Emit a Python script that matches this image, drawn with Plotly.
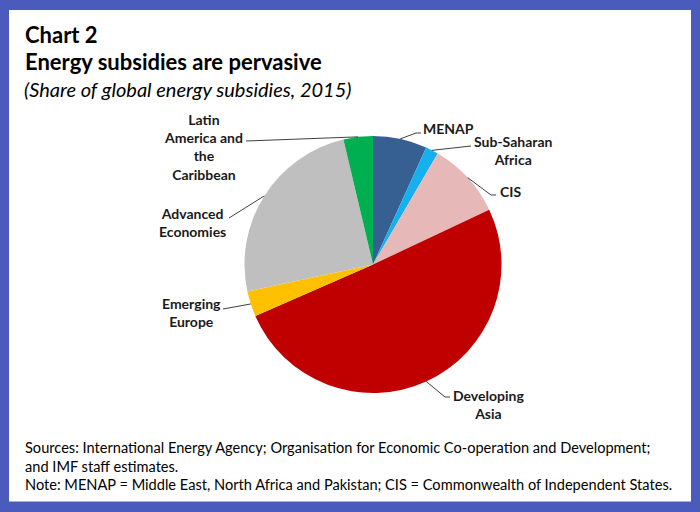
import math
import plotly.graph_objects as go

# ---- data ----
regions = ["MENAP", "Sub-Saharan Africa", "CIS", "Developing Asia",
           "Emerging Europe", "Advanced Economies", "Latin America and the Caribbean"]
shares = [6.8, 1.6, 9.6, 50.5, 3.2, 24.7, 3.7]
colors = ["#376092", "#16B0EE", "#E6B9B8", "#C00000", "#FFC000", "#BFBFBF", "#00B050"]
label_text = ["MENAP", "Sub-Saharan<br>Africa", "CIS", "Developing<br>Asia",
              "Emerging<br>Europe", "Advanced<br>Economies", "Latin<br>America and<br>the<br>Caribbean"]

W, H = 700, 512
CX, CY, R = 373.0, 264.5, 128.5

def px(x):
    return x / W

def py(y):
    return 1 - y / H

# label layout: (text x, text y, anchor, leader end x, leader end y, elbow x)
label_pos = [
    (421, 128, "left", 421, 133, 416),
    (513, 150, "center", 471, 146, 471),
    (498, 191, "left", 496, 195, 491),
    (488, 404, "center", 450, 397, 445),
    (191, 312, "center", 223, 309, 223),
    (192, 222, "center", 229, 218, 229),
    (203, 147, "center", 246, 141, 246),
]

fig = go.Figure()
fig.add_trace(go.Pie(
    labels=regions, values=shares, sort=False, direction="clockwise",
    rotation=0, marker=dict(colors=colors, line=dict(width=0)),
    textinfo="none", hoverinfo="label+percent", showlegend=False,
    domain=dict(x=[px(CX - R), px(CX + R)], y=[py(CY + R), py(CY - R)]),
))

shapes = [
    dict(type="rect", xref="paper", yref="paper", x0=0, x1=1, y0=0, y1=1,
         fillcolor="#4A5BBD", line=dict(width=0), layer="below"),
    dict(type="rect", xref="paper", yref="paper", x0=px(9), x1=px(691),
         y0=py(501.5), y1=py(10), fillcolor="white", line=dict(width=0), layer="below"),
]

annotations = []
total = sum(shares)
cum = 0.0
for i, v in enumerate(shares):
    mid = (cum + v / 2) / total * 2 * math.pi
    cum += v
    ex = CX + R * math.sin(mid)
    ey = CY - R * math.cos(mid)
    tx, ty, anchor, lx, ly, elx = label_pos[i]
    path = f"M {px(ex)},{py(ey)} L {px(elx)},{py(ly)} L {px(lx)},{py(ly)}"
    shapes.append(dict(type="path", xref="paper", yref="paper", path=path,
                       line=dict(color="#404040", width=1)))
    annotations.append(dict(x=px(tx), y=py(ty), xref="paper", yref="paper",
                            text=f"<b>{label_text[i]}</b>", showarrow=False,
                            xanchor=anchor, yanchor="middle", align="center",
                            font=dict(size=14, color="#1a1a1a", family="Lato")))

title_font = dict(family="Lato", size=22, color="black")
annotations += [
    dict(x=px(23), y=py(34), xref="paper", yref="paper", text="<b>Chart 2</b>",
         showarrow=False, xanchor="left", yanchor="middle", font=title_font),
    dict(x=px(23), y=py(61), xref="paper", yref="paper",
         text="<b>Energy subsidies are pervasive</b>",
         showarrow=False, xanchor="left", yanchor="middle", font=title_font),
    dict(x=px(22), y=py(89), xref="paper", yref="paper",
         text="<i>(Share of global energy subsidies, 2015)</i>",
         showarrow=False, xanchor="left", yanchor="middle",
         font=dict(family="Lato", size=20, color="black")),
]

foot_font = dict(family="Lato", size=14.6, color="black")
foot_lines = [
    (447, "Sources: International Energy Agency; Organisation for Economic Co-operation and Development;"),
    (466, "and IMF staff estimates."),
    (484, "Note: MENAP = Middle East, North Africa and Pakistan; CIS = Commonwealth of Independent States."),
]
for yy, t in foot_lines:
    annotations.append(dict(x=px(23), y=py(yy), xref="paper", yref="paper", text=t,
                            showarrow=False, xanchor="left", yanchor="middle", font=foot_font))

fig.update_layout(
    width=W, height=H, margin=dict(l=0, r=0, t=0, b=0),
    paper_bgcolor="white", plot_bgcolor="white",
    shapes=shapes, annotations=annotations,
)

fig.write_html("out.html")
